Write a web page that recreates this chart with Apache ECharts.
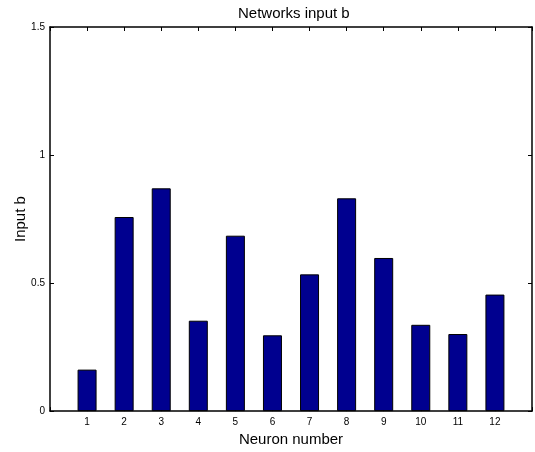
<!DOCTYPE html>
<html>
<head>
<meta charset="utf-8">
<script src="https://cdn.jsdelivr.net/npm/echarts@6/dist/echarts.min.js"></script>
<style>html,body{margin:0;padding:0;background:#fff;}#c{width:535px;height:452px;}</style>
</head>
<body>
<div id="c"></div>
<script>
var neurons = [1,2,3,4,5,6,7,8,9,10,11,12];
var inputB = [0.162,0.758,0.870,0.353,0.685,0.296,0.534,0.831,0.598,0.337,0.301,0.455];
var yTicks = [0, 0.5, 1, 1.5];

var FONT = 'Liberation Sans, Arial, Helvetica, sans-serif';
var chart = echarts.init(document.getElementById('c'), null, {renderer:'canvas'});
var barData = neurons.map(function(n,i){return [n, inputB[i]];});
var axLine = {show:true, onZero:false, lineStyle:{color:'#000', width:1.5}};
var axTick = {show:true, inside:true, length:4, lineStyle:{color:'#000', width:1}};
var axCommon = {
  type:'value', min:0, max:13, interval:1,
  axisLine:axLine, axisTick:axTick, splitLine:{show:false}
};
chart.setOption({
  animation:false,
  backgroundColor:'#fff',
  title:{text:'Networks input b', left:233, top:1,
    textStyle:{fontFamily:FONT, fontSize:15, fontWeight:'normal', color:'#000'}},
  grid:{left:50, right:3, top:27, bottom:38, containLabel:false},
  xAxis:[
    Object.assign({}, axCommon, {
      position:'bottom',
      name:'Neuron number', nameLocation:'middle', nameGap:18,
      nameTextStyle:{fontFamily:FONT, fontSize:15, color:'#000'},
      axisLabel:{show:true, margin:6, fontFamily:FONT, fontSize:10, color:'#000',
        formatter:function(v){return neurons.indexOf(v) >= 0 ? String(v) : '';}}
    }),
    Object.assign({}, axCommon, {position:'top', axisLabel:{show:false}})
  ],
  yAxis:[
    {type:'value', min:yTicks[0], max:yTicks[yTicks.length-1], interval:0.5, position:'left',
     name:'Input b', nameLocation:'middle', nameGap:22, nameMoveOverlap:false,
     nameTextStyle:{fontFamily:FONT, fontSize:15, color:'#000'},
     axisLine:axLine, axisTick:axTick, splitLine:{show:false},
     axisLabel:{margin:5, fontFamily:FONT, fontSize:10, color:'#000',
       formatter:function(v){return String(v);}}},
    {type:'value', min:yTicks[0], max:yTicks[yTicks.length-1], interval:0.5, position:'right',
     axisLine:axLine, axisTick:axTick, splitLine:{show:false}, axisLabel:{show:false}}
  ],
  series:[{
    type:'bar', xAxisIndex:0, yAxisIndex:0, data:barData, barWidth:19,
    itemStyle:{color:'#00008F', borderColor:'#000', borderWidth:1}
  }]
});
</script>
</body>
</html>
